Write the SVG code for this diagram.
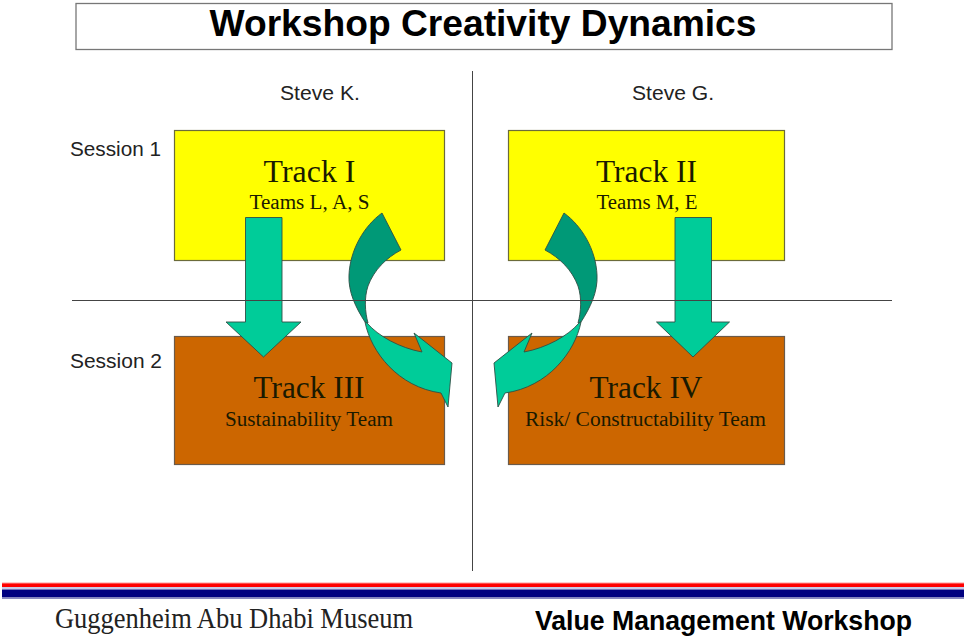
<svg xmlns="http://www.w3.org/2000/svg" width="964" height="637" viewBox="0 0 964 637">
  <style>
    .sans { font-family: "Liberation Sans", Arial, sans-serif; }
    .serif { font-family: "Liberation Serif", "Times New Roman", serif; }
    .label { font-size: 20.5px; fill: #222; }
    .track { font-size: 31px; fill: #1a1a00; text-anchor: middle; }
    .team { font-size: 20.5px; fill: #1a1a00; text-anchor: middle; }
    .yellow { fill: #FFFF00; stroke: #6b6b3a; stroke-width: 1.2; }
    .brown { fill: #CC6600; stroke: #6b5a4a; stroke-width: 1.2; }
    .flow { fill: #00CC99; stroke: #2f4f45; stroke-width: 0.9; stroke-linejoin: miter; }
    .flow-back { fill: #009977; stroke: #2f4f45; stroke-width: 0.9; }
    .rule { stroke: #444; stroke-width: 1; fill: none; }
  </style>

  <!-- title -->
  <g id="title">
    <rect x="76" y="3.5" width="816" height="46" fill="#fff" stroke="#777" stroke-width="1.3"/>
    <text class="sans" x="483" y="35.5" font-size="36" font-weight="bold" text-anchor="middle" fill="#000" textLength="547" lengthAdjust="spacingAndGlyphs">Workshop Creativity Dynamics</text>
  </g>

  <!-- column / row headings -->
  <g id="heading-steve-k"><text class="sans label" x="320" y="100" text-anchor="middle" textLength="80" lengthAdjust="spacingAndGlyphs">Steve K.</text></g>
  <g id="heading-steve-g"><text class="sans label" x="673" y="100" text-anchor="middle" textLength="82" lengthAdjust="spacingAndGlyphs">Steve G.</text></g>
  <g id="heading-session-1"><text class="sans label" x="70" y="156" textLength="91" lengthAdjust="spacingAndGlyphs">Session 1</text></g>
  <g id="heading-session-2"><text class="sans label" x="70" y="368" textLength="92" lengthAdjust="spacingAndGlyphs">Session 2</text></g>

  <!-- track boxes -->
  <g id="track-1">
    <rect class="yellow" x="174.5" y="130.5" width="270" height="130"/>
    <text class="serif track" x="309.5" y="182" textLength="92" lengthAdjust="spacingAndGlyphs">Track I</text>
    <text class="serif team" x="309.5" y="209" textLength="120" lengthAdjust="spacingAndGlyphs">Teams L, A, S</text>
  </g>
  <g id="track-2">
    <rect class="yellow" x="508.5" y="130.5" width="276" height="130"/>
    <text class="serif track" x="646.5" y="182" textLength="101" lengthAdjust="spacingAndGlyphs">Track II</text>
    <text class="serif team" x="647" y="209" textLength="101" lengthAdjust="spacingAndGlyphs">Teams M, E</text>
  </g>
  <g id="track-3">
    <rect class="brown" x="174.5" y="336.5" width="270" height="128"/>
    <text class="serif track" x="309" y="398" textLength="111" lengthAdjust="spacingAndGlyphs">Track III</text>
    <text class="serif team" x="309" y="426" textLength="168" lengthAdjust="spacingAndGlyphs">Sustainability Team</text>
  </g>
  <g id="track-4">
    <rect class="brown" x="508.5" y="336.5" width="276" height="128"/>
    <text class="serif track" x="646" y="398" textLength="113" lengthAdjust="spacingAndGlyphs">Track IV</text>
    <text class="serif team" x="645.5" y="426" textLength="241" lengthAdjust="spacingAndGlyphs">Risk/ Constructability Team</text>
  </g>

  <!-- connectors -->
  <g id="connectors">
    <!-- straight down arrows: session 1 to session 2 -->
    <path class="flow" d="M245.5,217.5 H282 V322 H301 L263.5,357 L226,322 H245.5 Z"/>
    <path class="flow" d="M675,217.5 H711.5 V322 H729.5 L693,357 L656.5,322 H675 Z"/>

    <!-- curved arrow: Track I across to Track IV side -->
    <g id="cross-left">
      <path class="flow-back" d="M382,213 L401,250 C386,258 374,270 368,286 C364,298 365,312 368,323 L365,322 C356,308 348,292 349,275 C350,250 364,226 382,213 Z"/>
      <path class="flow" d="M365,322 C371,352 398,387 441,393 L448,407 L452,363 L414,333 L422,352 C400,348 378,336 367,323 Z"/>
    </g>
    <!-- curved arrow: Track II across to Track III side (mirror) -->
    <g id="cross-right" transform="translate(946,0) scale(-1,1)">
      <path class="flow-back" d="M382,213 L401,250 C386,258 374,270 368,286 C364,298 365,312 368,323 L365,322 C356,308 348,292 349,275 C350,250 364,226 382,213 Z"/>
      <path class="flow" d="M365,322 C371,352 398,387 441,393 L448,407 L452,363 L414,333 L422,352 C400,348 378,336 367,323 Z"/>
    </g>
  </g>

  <!-- quadrant rules -->
  <g id="rules">
    <line class="rule" x1="472.5" y1="71" x2="472.5" y2="571"/>
    <line class="rule" x1="72" y1="300.5" x2="892" y2="300.5"/>
  </g>

  <!-- footer -->
  <g id="footer">
    <rect x="2" y="582.5" width="962" height="1.5" fill="#ff9a9a"/>
    <rect x="2" y="583.5" width="962" height="3.5" fill="#FF0000"/>
    <rect x="2" y="587" width="962" height="2.5" fill="#c9c9e6"/>
    <rect x="2" y="589.5" width="962" height="8" fill="#000080"/>
    <rect x="2" y="597.5" width="962" height="1.5" fill="#8a8ac0"/>
    <text class="serif" x="55" y="628" font-size="29" fill="#222" textLength="358" lengthAdjust="spacingAndGlyphs">Guggenheim Abu Dhabi Museum</text>
    <text class="sans" x="535" y="630" font-size="28" font-weight="bold" fill="#000" textLength="377" lengthAdjust="spacingAndGlyphs">Value Management Workshop</text>
  </g>
</svg>
